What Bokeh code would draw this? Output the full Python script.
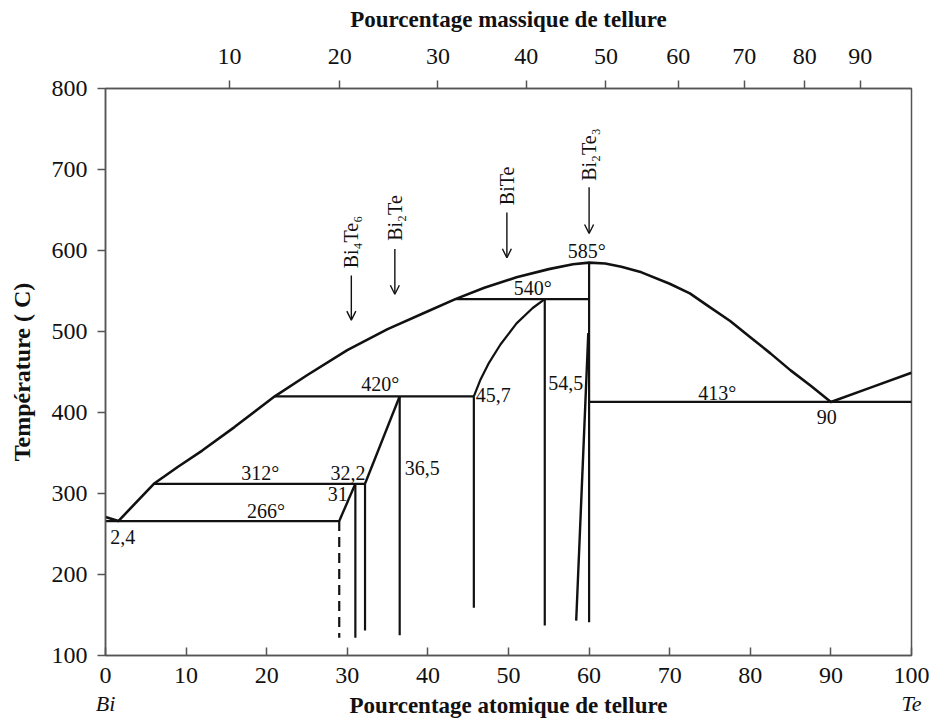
import math
from bokeh.plotting import figure
from bokeh.models import FixedTicker, LinearAxis, Label, Arrow, OpenHead
from bokeh.embed import file_html
from bokeh.resources import INLINE

# ---------------- data (atomic % Te, temperature in °C) ----------------
liquidus_x = [0, 1.6, 6, 9, 12, 16, 21, 25, 30, 35, 40, 43.4, 47, 51, 55, 58, 60,
              62, 64, 66.5, 70, 72.5, 74.7, 77.5, 80, 82.5, 85, 87.5, 90, 95, 100]
liquidus_T = [271, 266, 312, 333, 353, 382, 420, 446, 477, 503, 525, 540, 554, 567, 577, 583, 585,
              584, 580, 573, 559, 547, 532, 513, 493, 473, 452, 433, 413, 431, 449]

# horizontal invariant lines
hline_x0 = [0, 6, 21, 43.4, 60]
hline_x1 = [29, 32.2, 45.7, 60, 100]
hline_T = [266, 312, 420, 540, 413]

# vertical phase boundaries
vline_x = [31, 32.2, 36.5, 45.7, 54.5, 60]
vline_top = [312, 312, 420, 420, 540, 585]
vline_bottom = [122, 131, 125, 159, 137, 141]

# slanted boundaries
slant_x0 = [29, 32.2, 58.4]
slant_T0 = [266, 312, 143]
slant_x1 = [31, 36.5, 59.9]
slant_T1 = [312, 420, 498]

# dashed boundary
dash_x = [29, 29]
dash_T = [266, 122]

# BiTe solidus curve
bite_x = [45.7, 46.5, 47.5, 49, 51, 53, 54.5]
bite_T = [420, 440, 460, 484, 510, 529, 540]

# axis ticks
at_ticks = [0, 10, 20, 30, 40, 50, 60, 70, 80, 90, 100]
temp_ticks = [100, 200, 300, 400, 500, 600, 700, 800]
wt_ticks = [10, 20, 30, 40, 50, 60, 70, 80, 90]
M_TE, M_BI = 127.60, 208.98
wt_pos = [round(100 * (w / M_TE) / (w / M_TE + (100 - w) / M_BI), 3) for w in wt_ticks]
end_ticks = [0, 100]
end_names = ["Bi", "Te"]

# annotations
note_text = ["2,4", "266°", "312°", "32,2", "31", "36,5", "420°", "45,7", "540°", "54,5", "585°", "413°", "90"]
note_x = [0.6, 19.9, 19.2, 30.1, 28.8, 39.3, 34.1, 48.1, 53.0, 57.1, 59.7, 75.9, 89.5]
note_T = [246, 279, 325, 325, 300, 332, 435, 422, 554, 436, 599, 424, 394]
note_align = ["left"] + ["center"] * 12

compound_text = ["Bi₄Te₆", "Bi₂Te", "BiTe", "Bi₂Te₃"]
compound_x = [30.5, 35.9, 49.8, 60]
compound_text_T = [578, 612, 656, 686]
arrow_T0 = [569, 602, 647, 678]
arrow_T1 = [514, 546, 591, 621]

FONT = "Liberation Serif"
INK = "#111111"
FRAME = "#555555"

p = figure(width=930, height=728, x_range=(0, 100), y_range=(100, 800),
           output_backend="svg", toolbar_location=None,
           min_border_left=105, min_border_right=19, min_border_top=88, min_border_bottom=73)
p.background_fill_color = "white"
p.border_fill_color = "white"
p.xgrid.visible = False
p.ygrid.visible = False
p.outline_line_color = FRAME
p.outline_line_width = 1.5


def style_axis(ax, tick_in, tick_out, standoff, size="24px"):
    ax.major_tick_in = tick_in
    ax.major_tick_out = tick_out
    ax.minor_tick_line_color = None
    ax.major_label_standoff = standoff
    ax.major_label_text_font = FONT
    ax.major_label_text_font_size = size
    ax.major_label_text_color = INK
    ax.axis_line_color = FRAME
    ax.axis_line_width = 1.5
    ax.major_tick_line_color = FRAME
    ax.major_tick_line_width = 1.5
    ax.axis_label_text_font = FONT
    ax.axis_label_text_font_style = "bold"
    ax.axis_label_text_color = INK


# bottom axis (atomic %)
xa = p.xaxis[0]
xa.ticker = FixedTicker(ticks=at_ticks)
style_axis(xa, 8, 0, 12)

# second bottom axis: element names + title on the same line
names = LinearAxis(ticker=FixedTicker(ticks=end_ticks),
                   major_label_overrides={t: n for t, n in zip(end_ticks, end_names)})
style_axis(names, 0, 0, 5, size="22px")
names.axis_line_color = None
names.major_tick_line_color = None
names.major_label_text_font_style = "italic"
names.axis_label = "Pourcentage atomique de tellure"
names.axis_label_text_font_size = "23px"
names.axis_label_standoff = -26
p.add_layout(names, "below")

# left axis
ya = p.yaxis[0]
ya.ticker = FixedTicker(ticks=temp_ticks)
style_axis(ya, 0, 8, 10)
ya.axis_label = "Température ( C)"
ya.axis_label_text_font_size = "24px"
ya.axis_label_standoff = 14

# top axis (weight %)
top = LinearAxis(ticker=FixedTicker(ticks=wt_pos),
                 major_label_overrides={pos: str(w) for pos, w in zip(wt_pos, wt_ticks)})
style_axis(top, 0, 8, 17)
top.axis_label = "Pourcentage massique de tellure"
top.axis_label_text_font_size = "23px"
top.axis_label_standoff = 14
p.add_layout(top, "above")

# liquidus
p.line(liquidus_x, liquidus_T, line_color=INK, line_width=2.6, line_join="round")

# horizontals
p.segment(x0=hline_x0, y0=hline_T, x1=hline_x1, y1=hline_T, line_color=INK, line_width=2.2)
# verticals
p.segment(x0=vline_x, y0=vline_bottom, x1=vline_x, y1=vline_top, line_color=INK, line_width=2.2)
# slanted
p.segment(x0=slant_x0, y0=slant_T0, x1=slant_x1, y1=slant_T1, line_color=INK, line_width=2.4)
# dashed
p.line(dash_x, dash_T, line_color=INK, line_width=2.2, line_dash="10 6")
# BiTe curve
p.line(bite_x, bite_T, line_color=INK, line_width=2.2, line_join="round")

# temperature / composition notes
for t, x, y, a in zip(note_text, note_x, note_T, note_align):
    p.add_layout(Label(x=x, y=y, text=t, text_align=a, text_baseline="middle",
                       text_font=FONT, text_font_size="20px", text_color=INK))

# compounds with arrows
for t, x, ty, a0, a1 in zip(compound_text, compound_x, compound_text_T, arrow_T0, arrow_T1):
    p.add_layout(Label(x=x, y=ty, text=t, angle=math.pi / 2, text_align="left",
                       text_baseline="middle", text_font=FONT, text_font_size="20px",
                       text_color=INK))
    p.add_layout(Arrow(x_start=x, y_start=a0, x_end=x, y_end=a1, line_color=INK, line_width=1.4,
                       end=OpenHead(size=9, line_color=INK, line_width=1.4)))

open("out.html", "w").write(file_html(p, INLINE))
